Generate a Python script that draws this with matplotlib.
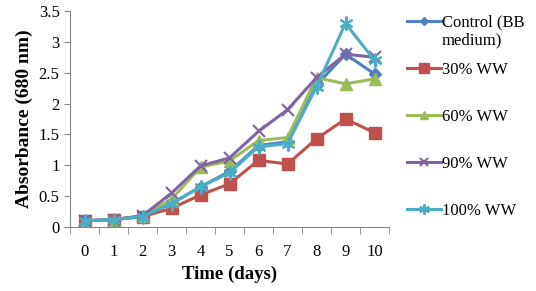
import numpy as np
import matplotlib.pyplot as plt

days = np.arange(11)
control = [0.10, 0.12, 0.17, 0.38, 0.65, 0.90, 1.32, 1.38, 2.30, 2.80, 2.48]
ww30 = [0.10, 0.12, 0.17, 0.30, 0.52, 0.70, 1.08, 1.02, 1.43, 1.75, 1.53]
ww60 = [0.10, 0.12, 0.18, 0.45, 0.97, 1.07, 1.40, 1.45, 2.42, 2.32, 2.40]
ww90 = [0.10, 0.12, 0.18, 0.55, 0.99, 1.12, 1.55, 1.90, 2.42, 2.80, 2.75]
ww100 = [0.10, 0.12, 0.17, 0.38, 0.65, 0.88, 1.30, 1.35, 2.27, 3.30, 2.70]
yticks = [0, 0.5, 1, 1.5, 2, 2.5, 3, 3.5]
ylabels = ['0', '0.5', '1', '1.5', '2', '2.5', '3', '3.5']

plt.rcParams['font.family'] = ['Liberation Serif', 'DejaVu Serif']

fig = plt.figure(figsize=(5.36, 2.91), dpi=100)
ax = fig.add_axes([70/536, 64/291, 319/536, 216/291])

ax.plot(days, control, color='#4F81BD', marker='D', ms=6, lw=2.2, label='Control (BB')
ax.plot(days, ww30, color='#C0504D', marker='s', ms=9, lw=2.2, label='30% WW')
ax.plot(days, ww60, color='#9BBB59', marker='^', ms=8, lw=2.2, label='60% WW')
ax.plot(days, ww90, color='#8064A2', marker='x', ms=8, mew=1.5, lw=2.2, label='90% WW')
ax.plot(days, ww100, color='#4BACC6', marker=(6, 2, 0), ms=10, mew=1.5, lw=2.2, label='100% WW')

ax.set_xlim(-0.5, 10.5)
ax.set_ylim(0, 3.5)
ax.set_yticks(yticks)
ax.set_yticklabels(ylabels, fontsize=12)
ax.set_xticks(days)
ax.set_xticklabels([str(d) for d in days], fontsize=12)
ax.set_xticks(np.arange(-0.5, 11, 1), minor=True)
ax.tick_params(axis='x', which='major', length=0, pad=12)
ax.tick_params(axis='x', which='minor', length=5, color='#868686')
ax.tick_params(axis='y', length=4, color='#868686')
for s in ['top', 'right']:
    ax.spines[s].set_visible(False)
for s in ['left', 'bottom']:
    ax.spines[s].set_color('#868686')

ax.set_xlabel('Time (days)', fontsize=13.5, fontweight='bold')
ax.set_ylabel('Absorbance (680 nm)', fontsize=14, fontweight='bold')

leg = ax.legend(loc='upper left', bbox_to_anchor=(400/536, 1.0 - 8/291), bbox_transform=fig.transFigure,
                frameon=False, fontsize=12, labelspacing=1.86, handlelength=2.05,
                handletextpad=0.05, borderaxespad=0, markerscale=0.75)
# second line of the control label
ax.annotate('medium)', xy=(0, 0), xycoords=leg.get_texts()[0], xytext=(0, -1),
            textcoords='offset points', ha='left', va='top', fontsize=12, zorder=6)

plt.savefig('out.png', dpi=100)
